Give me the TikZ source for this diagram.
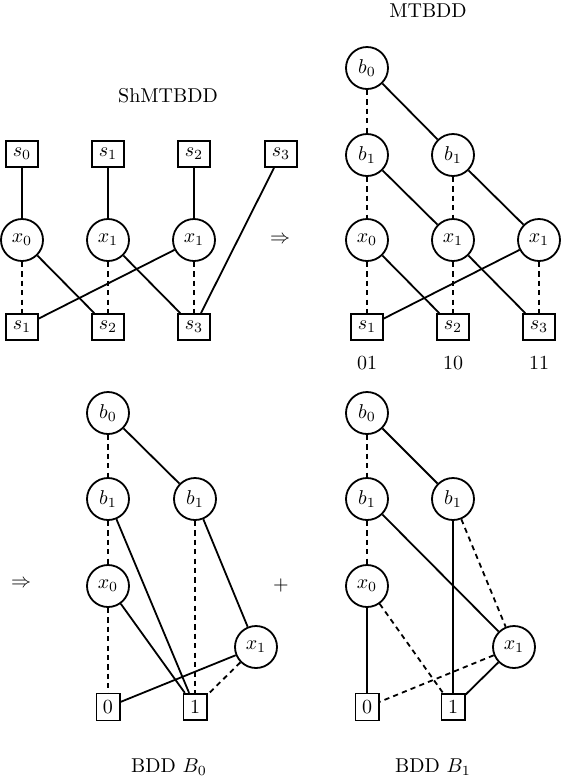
\documentclass[tikz,border=0pt]{standalone}
\begin{document}
\begin{tikzpicture}[x=0.5pt,y=-0.5pt,
  vnode/.style={circle,draw,line width=0.9pt,minimum size=21pt,inner sep=0pt},
  tnode/.style={rectangle,draw,line width=0.9pt,minimum height=13pt,inner sep=3.3pt},
  hi/.style={line width=0.9pt},
  lo/.style={line width=0.9pt,dash pattern=on 2.6pt off 2.1pt},
  lbl/.style={inner sep=0pt}]
\useasboundingbox (0,0) rectangle (562,778);

% ---------- top-left: ShMTBDD ----------
\node[lbl] (tlT) at (168,96) {ShMTBDD};
\node[tnode] (ts0) at (22,154) {$s_0$};
\node[tnode] (ts1) at (108,154) {$s_1$};
\node[tnode] (ts2) at (194,154) {$s_2$};
\node[tnode] (ts3) at (281,154) {$s_3$};
\node[vnode] (tx0) at (22,240) {$x_0$};
\node[vnode] (tx1a) at (108,240) {$x_1$};
\node[vnode] (tx1b) at (194,240) {$x_1$};
\node[tnode] (bs1) at (22,327) {$s_1$};
\node[tnode] (bs2) at (108,327) {$s_2$};
\node[tnode] (bs3) at (194,327) {$s_3$};
\node[lbl] (arr1) at (280,240) {$\Rightarrow$};
\draw[hi] (ts0) -- (tx0);
\draw[hi] (ts1) -- (tx1a);
\draw[hi] (ts2) -- (tx1b);
\draw[hi] (ts3) -- (bs3);
\draw[lo] (tx0) -- (bs1);
\draw[hi] (tx0) -- (bs2);
\draw[lo] (tx1a) -- (bs2);
\draw[hi] (tx1a) -- (bs3);
\draw[lo] (tx1b) -- (bs3);
\draw[hi] (tx1b) -- (bs1);

% ---------- top-right: MTBDD ----------
\node[lbl] (trT) at (428,11) {MTBDD};
\node[vnode] (mb0) at (367,68) {$b_0$};
\node[vnode] (mb1a) at (367,155) {$b_1$};
\node[vnode] (mb1b) at (453,155) {$b_1$};
\node[vnode] (mx0) at (367,240) {$x_0$};
\node[vnode] (mx1a) at (453,240) {$x_1$};
\node[vnode] (mx1b) at (539,240) {$x_1$};
\node[tnode] (ms1) at (367,327) {$s_1$};
\node[tnode] (ms2) at (453,327) {$s_2$};
\node[tnode] (ms3) at (539,327) {$s_3$};
\node[lbl] (l01) at (367,363) {01};
\node[lbl] (l10) at (453,363) {10};
\node[lbl] (l11) at (539,363) {11};
\draw[lo] (mb0) -- (mb1a);
\draw[hi] (mb0) -- (mb1b);
\draw[lo] (mb1a) -- (mx0);
\draw[hi] (mb1a) -- (mx1a);
\draw[lo] (mb1b) -- (mx1a);
\draw[hi] (mb1b) -- (mx1b);
\draw[lo] (mx0) -- (ms1);
\draw[hi] (mx0) -- (ms2);
\draw[lo] (mx1a) -- (ms2);
\draw[hi] (mx1a) -- (ms3);
\draw[lo] (mx1b) -- (ms3);
\draw[hi] (mx1b) -- (ms1);

% ---------- bottom-left: BDD B0 ----------
\node[lbl] (arr2) at (21,584) {$\Rightarrow$};
\node[vnode] (ab0) at (108,413) {$b_0$};
\node[vnode] (ab1a) at (108,499) {$b_1$};
\node[vnode] (ab1b) at (195,499) {$b_1$};
\node[vnode] (ax0) at (108,586) {$x_0$};
\node[vnode] (ax1) at (256,647) {$x_1$};
\node[tnode] (at0) at (108,707) {0};
\node[tnode] (at1) at (195,707) {1};
\node[lbl] (blT) at (169,767) {BDD $B_0$};
\node[lbl] (plus) at (281,585) {$+$};
\draw[lo] (ab0) -- (ab1a);
\draw[hi] (ab0) -- (ab1b);
\draw[lo] (ab1a) -- (ax0);
\draw[hi] (ab1a) -- (at1);
\draw[lo] (ab1b) -- (at1);
\draw[hi] (ab1b) -- (ax1);
\draw[lo] (ax0) -- (at0);
\draw[hi] (ax0) -- (at1);
\draw[hi] (ax1) -- (at0);
\draw[lo] (ax1) -- (at1);

% ---------- bottom-right: BDD B1 ----------
\node[vnode] (cb0) at (367,413) {$b_0$};
\node[vnode] (cb1a) at (367,499) {$b_1$};
\node[vnode] (cb1b) at (453,499) {$b_1$};
\node[vnode] (cx0) at (367,586) {$x_0$};
\node[vnode] (cx1) at (514,647) {$x_1$};
\node[tnode] (ct0) at (367,707) {0};
\node[tnode] (ct1) at (453,707) {1};
\node[lbl] (brT) at (433,767) {BDD $B_1$};
\draw[lo] (cb0) -- (cb1a);
\draw[hi] (cb0) -- (cb1b);
\draw[lo] (cb1a) -- (cx0);
\draw[hi] (cb1a) -- (cx1);
\draw[hi] (cb1b) -- (ct1);
\draw[lo] (cb1b) -- (cx1);
\draw[hi] (cx0) -- (ct0);
\draw[lo] (cx0) -- (ct1);
\draw[lo] (cx1) -- (ct0);
\draw[hi] (cx1) -- (ct1);
\end{tikzpicture}
\end{document}
